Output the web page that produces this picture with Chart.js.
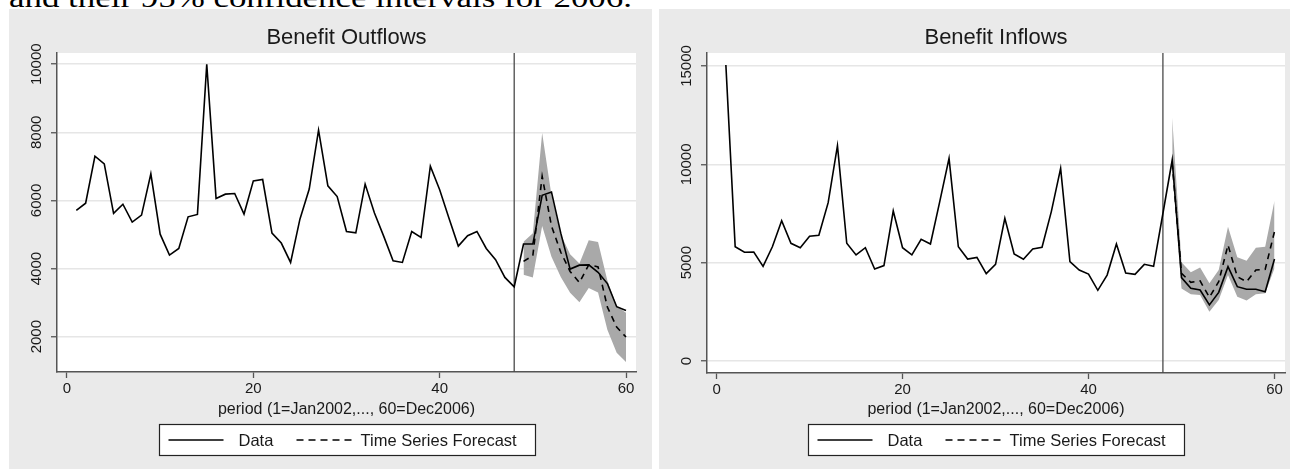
<!DOCTYPE html>
<html>
<head>
<meta charset="utf-8">
<script src="https://cdn.jsdelivr.net/npm/chart.js@4.4.1/dist/chart.umd.min.js"></script>
<style>
  html, body { margin: 0; padding: 0; background: #fff; }
  body { width: 1290px; height: 469px; position: relative; overflow: hidden; }
  .panel { position: absolute; top: 9px; height: 460px; background: #eaeaea; }
  .panel canvas { display: block; }
  #caption { position: absolute; left: 0; top: 0; }
</style>
</head>
<body>
<svg id="caption" width="1290" height="9"><text x="9" y="6.5" font-family="Liberation Serif, DejaVu Serif, serif" font-size="28" fill="#000" textLength="623" lengthAdjust="spacingAndGlyphs">and their 95% confidence intervals for 2006.</text></svg>
<div class="panel" style="left:9px;width:643px"><canvas id="outflows" width="643" height="460"></canvas></div>
<div class="panel" style="left:659px;width:631px"><canvas id="inflows" width="631" height="460"></canvas></div>

<script>
// periods 1..60 (1=Jan2002, 60=Dec2006)
const periods = [1, 2, 3, 4, 5, 6, 7, 8, 9, 10, 11, 12, 13, 14, 15, 16, 17, 18, 19, 20,
  21, 22, 23, 24, 25, 26, 27, 28, 29, 30, 31, 32, 33, 34, 35, 36, 37, 38, 39, 40,
  41, 42, 43, 44, 45, 46, 47, 48, 49, 50, 51, 52, 53, 54, 55, 56, 57, 58, 59, 60];
const forecastPeriods = [49, 50, 51, 52, 53, 54, 55, 56, 57, 58, 59, 60];
const cutoffPeriod = 48;
const xTicks = [0, 20, 40, 60];

// Benefit Outflows
const outflowData = [5710, 5920, 7300, 7075, 5620, 5890, 5365, 5570, 6780, 5010,
  4395, 4590, 5520, 5590, 10000, 6060, 6185, 6205, 5600, 6575,
  6615, 5040, 4750, 4180, 5450, 6335, 8065, 6430, 6115, 5090,
  5050, 6480, 5630, 4945, 4230, 4180, 5090, 4915, 7005, 6315,
  5480, 4660, 4965, 5090, 4590, 4260, 3740, 3465, 4720, 4720,
  6150, 6245, 5040, 3985, 4100, 4110, 3890, 3560, 2880, 2770];
const outflowForecast = [4210, 4380, 6710, 5250, 4480, 3915, 3590, 4110, 4050, 2870, 2280, 1990];
const outflowUpper = [4790, 5040, 7980, 6150, 5000, 4420, 4150, 4830, 4780, 3650, 2900, 2700];
const outflowLower = [3820, 3740, 5250, 4350, 3750, 3290, 3010, 3430, 3300, 2200, 1530, 1260];
const outflowTicks = [2000, 4000, 6000, 8000, 10000];

// Benefit Inflows
const inflowData = [15050, 5810, 5530, 5540, 4810, 5810, 7135, 5985, 5760, 6340,
  6390, 8050, 10950, 5985, 5390, 5760, 4680, 4850, 7630, 5760,
  5400, 6190, 5950, 8100, 10300, 5810, 5185, 5270, 4440, 4915,
  7255, 5440, 5170, 5695, 5780, 7595, 9795, 5050, 4625, 4420,
  3595, 4370, 5950, 4475, 4405, 4915, 4815, 7500, 10220, 4240,
  3695, 3610, 2850, 3490, 4795, 3780, 3645, 3645, 3525, 5185];
const inflowForecast = [10050, 4460, 4000, 4070, 3240, 4030, 5900, 4290, 4030, 4630, 4660, 6580];
const inflowUpper = [12370, 5020, 4510, 4750, 3950, 4630, 6830, 5270, 5100, 5760, 5810, 8150];
const inflowLower = [9750, 3690, 3390, 3355, 2510, 3100, 4370, 3270, 3070, 3390, 3440, 4710];
const inflowTicks = [0, 5000, 10000, 15000];

const FONT = '"Liberation Sans", Arial, Helvetica, sans-serif';
const TEXT = '#1a1a1a';
const AXIS = '#555555';

const pts = (xs, ys) => xs.map((x, i) => ({ x: x, y: ys[i] }));

const stataText = {
  id: 'stataText',
  beforeDraw(chart) {
    const a = chart.chartArea;
    const ctx = chart.ctx;
    ctx.save();
    ctx.fillStyle = '#ffffff';
    ctx.fillRect(a.left, a.top, a.right - a.left, a.bottom - a.top);
    ctx.restore();
  },
  afterDraw(chart) {
    const o = chart.options.plugins.stataText;
    const a = chart.chartArea;
    const ctx = chart.ctx;
    const cx = (a.left + a.right) / 2;
    ctx.save();
    ctx.fillStyle = TEXT;

    // title
    ctx.font = '22px ' + FONT;
    ctx.textAlign = 'center';
    ctx.textBaseline = 'alphabetic';
    ctx.fillText(o.title, cx, 34.5);

    // rotated y labels
    const ys = chart.scales.y;
    ctx.font = '15px ' + FONT;
    ctx.textBaseline = 'middle';
    ys.ticks.forEach((t) => {
      ctx.save();
      ctx.translate(a.left - 20, ys.getPixelForValue(t.value));
      ctx.rotate(-Math.PI / 2);
      ctx.fillText(String(t.value), 0, 0);
      ctx.restore();
    });

    // x axis title
    ctx.font = '16px ' + FONT;
    ctx.textBaseline = 'alphabetic';
    ctx.fillText('period (1=Jan2002,..., 60=Dec2006)', cx, 405);

    // legend box
    const bw = 376, bh = 31, bx = Math.round(cx - bw / 2) + 0.5, by = 415.5;
    ctx.fillStyle = '#ffffff';
    ctx.fillRect(bx, by, bw, bh);
    ctx.strokeStyle = '#222';
    ctx.lineWidth = 1.2;
    ctx.strokeRect(bx, by, bw, bh);
    const ly = by + bh / 2;
    ctx.strokeStyle = '#000';
    ctx.lineWidth = 1.6;
    ctx.beginPath();
    ctx.moveTo(bx + 9, ly);
    ctx.lineTo(bx + 64, ly);
    ctx.stroke();
    ctx.setLineDash([7, 5]);
    ctx.beginPath();
    ctx.moveTo(bx + 137, ly);
    ctx.lineTo(bx + 197, ly);
    ctx.stroke();
    ctx.setLineDash([]);
    ctx.fillStyle = TEXT;
    ctx.font = '16.5px ' + FONT;
    ctx.textAlign = 'left';
    ctx.textBaseline = 'middle';
    ctx.fillText('Data', bx + 79, ly + 1);
    ctx.fillText('Time Series Forecast', bx + 201, ly + 1);
    ctx.restore();
  }
};

const makeChart = (id, cfg) => {
  const ctx = document.getElementById(id).getContext('2d');
  return new Chart(ctx, {
    type: 'line',
    data: {
      datasets: [
        {
          label: 'Data',
          data: pts(periods, cfg.data),
          borderColor: '#000',
          borderWidth: 1.6,
          pointRadius: 0,
          fill: false,
          order: 0,
        },
        {
          label: 'Time Series Forecast',
          data: pts(forecastPeriods, cfg.forecast),
          borderColor: '#000',
          borderWidth: 1.6,
          borderDash: [6, 5],
          pointRadius: 0,
          fill: false,
          order: 1,
        },
        {
          label: 'cutoff',
          data: [{ x: cutoffPeriod, y: cfg.yMin }, { x: cutoffPeriod, y: cfg.yMax }],
          borderColor: '#4a4a4a',
          borderWidth: 1.3,
          pointRadius: 0,
          fill: false,
          order: 2,
        },
        {
          label: 'lower',
          data: pts(forecastPeriods, cfg.lower),
          borderWidth: 0,
          pointRadius: 0,
          fill: false,
          order: 4,
        },
        {
          label: 'upper',
          data: pts(forecastPeriods, cfg.upper),
          borderWidth: 0,
          borderColor: 'rgba(0,0,0,0)',
          backgroundColor: '#a9a9a9',
          pointRadius: 0,
          fill: '-1',
          order: 3,
        },
      ],
    },
    options: {
      responsive: false,
      animation: false,
      devicePixelRatio: 1,
      layout: { padding: { top: 44, right: cfg.padRight, bottom: 0, left: 0 } },
      plugins: {
        legend: { display: false },
        tooltip: { enabled: false },
        stataText: { title: cfg.title },
      },
      scales: {
        x: {
          type: 'linear',
          min: cfg.xMin,
          max: cfg.xMax,
          afterBuildTicks: (s) => { s.ticks = xTicks.map((v) => ({ value: v })); },
          afterFit: (s) => { s.height = cfg.xAxisH; s.paddingLeft = 0; s.paddingRight = 0; },
          grid: { drawOnChartArea: false, tickLength: 6, tickColor: AXIS, tickWidth: 1.3 },
          border: { color: AXIS, width: 1.5 },
          ticks: {
            font: { family: FONT, size: 15 },
            color: TEXT,
            padding: 2,
            maxRotation: 0,
            autoSkip: false,
            callback: (v) => String(v),
          },
        },
        y: {
          type: 'linear',
          min: cfg.yMin,
          max: cfg.yMax,
          afterBuildTicks: (s) => { s.ticks = cfg.yTicks.map((v) => ({ value: v })); },
          afterFit: (s) => { s.width = 48; s.paddingTop = 0; s.paddingBottom = 0; },
          grid: { color: '#e6e6e6', lineWidth: 1.5, tickLength: 6, tickColor: AXIS, tickWidth: 1.3 },
          border: { color: AXIS, width: 1.5 },
          ticks: { display: false },
        },
      },
    },
    plugins: [stataText],
  });
};

makeChart('outflows', {
  title: 'Benefit Outflows',
  data: outflowData,
  forecast: outflowForecast,
  upper: outflowUpper,
  lower: outflowLower,
  yTicks: outflowTicks,
  yMin: 963,
  yMax: 10330,
  xMin: -1.073,
  xMax: 61.073,
  padRight: 16,
  xAxisH: 97,
});

makeChart('inflows', {
  title: 'Benefit Inflows',
  data: inflowData,
  forecast: inflowForecast,
  upper: inflowUpper,
  lower: inflowLower,
  yTicks: inflowTicks,
  yMin: -610,
  yMax: 15660,
  xMin: -1.03,
  xMax: 61.13,
  padRight: 5,
  xAxisH: 96,
});
</script>
</body>
</html>
